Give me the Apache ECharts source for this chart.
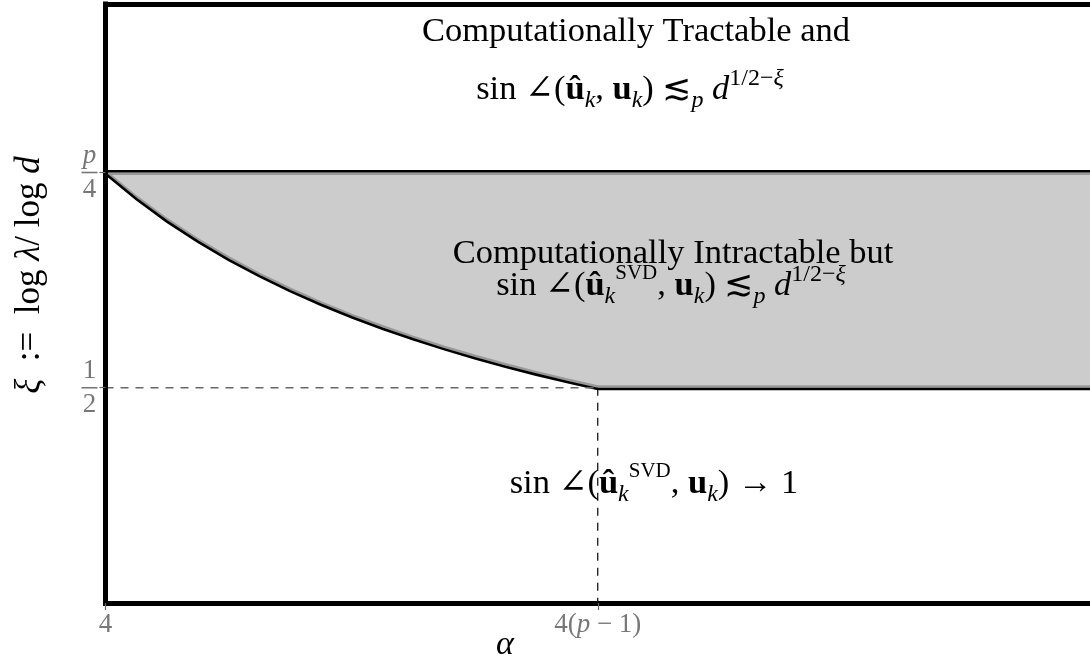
<!DOCTYPE html>
<html>
<head>
<meta charset="utf-8">
<script src="https://cdn.jsdelivr.net/npm/echarts@6/dist/echarts.min.js"></script>
<style>
html,body{margin:0;padding:0;background:#fff;}
#chart{width:1090px;height:665px;}
</style>
</head>
<body>
<div id="chart"></div>
<script>
// ---- data ----
const alphaRange = [4, 12];
const xiRange = [0.25, 0.9457];
const alphaTicks = [4, 8];
const alphaTickLabels = ['{r|4}', '{r|4(}{i|p}{r| − 1)}'];
const xiTicks = [0.5, 0.75];
const xiTickNum = ['{n|1}', '{ni|p}'];
const xiTickDen = ['2', '4'];
const upperXi = 0.75;      // p/4
const floorXi = 0.5;       // 1/2
const kinkAlpha = 8;       // 4(p-1)
const regionEndAlpha = 12;
const curveAlpha = [4, 4.25, 4.5, 4.75, 5, 5.25, 5.5, 5.75, 6, 6.25, 6.5, 6.75, 7, 7.25, 7.5, 7.75, 8];
const curveXi = [0.75, 0.7206, 0.6944, 0.6711, 0.65, 0.631, 0.6136, 0.5978, 0.5833, 0.57, 0.5577, 0.5463, 0.5357, 0.5259, 0.5167, 0.5081, 0.5];

const FONT = "'Liberation Serif','DejaVu Serif',serif";
const GRAY = '#777';
const FS = 34.5;

function renderRegion(params, api) {
  const topPx = [[alphaRange[0], upperXi], [regionEndAlpha, upperXi]].map(d => api.coord(d));
  const lowData = curveAlpha.map((a, i) => [a, curveXi[i]]).concat([[regionEndAlpha, floorXi]]);
  const lowPx = lowData.map(d => api.coord(d));
  const poly = topPx.concat(lowPx.slice().reverse());
  const off = 1.25;
  const shift = (pts, dy) => pts.map(q => [q[0], q[1] + dy]);
  return {
    type: 'group',
    children: [
      { type: 'polygon', shape: { points: poly }, style: { fill: '#cccccc' } },
      { type: 'polyline', shape: { points: shift(topPx, off) }, style: { stroke: '#999999', lineWidth: 2.4, fill: null } },
      { type: 'polyline', shape: { points: shift(lowPx, -off) }, style: { stroke: '#999999', lineWidth: 2.4, fill: null } },
      { type: 'polyline', shape: { points: shift(topPx, -off) }, style: { stroke: '#000', lineWidth: 2.6, fill: null } },
      { type: 'polyline', shape: { points: shift(lowPx, off) }, style: { stroke: '#000', lineWidth: 2.6, fill: null } }
    ]
  };
}

const mathRich = {
  r: { fontSize: FS, fontFamily: FONT, color: '#000', lineHeight: 46 },
  i: { fontSize: FS, fontFamily: FONT, fontStyle: 'italic', color: '#000', lineHeight: 46 },
  b: { fontSize: FS, fontFamily: FONT, fontWeight: 'bold', color: '#000', lineHeight: 46 },
  s: { fontSize: 24, fontFamily: FONT, fontStyle: 'italic', color: '#000', lineHeight: 23, verticalAlign: 'bottom' },
  sup: { fontSize: 24, fontFamily: FONT, color: '#000', lineHeight: 26, verticalAlign: 'top' },
  supi: { fontSize: 24, fontFamily: FONT, fontStyle: 'italic', color: '#000', lineHeight: 26, verticalAlign: 'top' },
  supr: { fontSize: 21, fontFamily: FONT, color: '#000', lineHeight: 20, verticalAlign: 'top' }
};

function mtext(x, y, text) {
  return {
    type: 'text', x: x, y: y, z: 50,
    style: { text: text, rich: mathRich, align: 'center', verticalAlign: 'middle', fontSize: FS, fontFamily: FONT, fill: '#000' }
  };
}

const chart = echarts.init(document.getElementById('chart'), null, { renderer: 'canvas' });
chart.setOption({
  animation: false,
  backgroundColor: '#fff',
  grid: { left: 105.5, top: 4, width: 988.6, bottom: 62, containLabel: false },
  xAxis: [
    {
      type: 'value', min: alphaRange[0], max: alphaRange[1], position: 'bottom', z: 10,
      splitLine: { show: false },
      axisLine: { show: true, onZero: false, lineStyle: { color: '#000', width: 5, cap: 'square' } },
      axisTick: { show: true, customValues: alphaTicks, length: 7, lineStyle: { color: '#666', width: 1.2 } },
      axisLabel: {
        show: true, customValues: alphaTicks, margin: 8, color: GRAY,
        formatter: v => alphaTickLabels[alphaTicks.indexOf(v)] || '',
        rich: {
          r: { fontSize: 27, fontFamily: FONT, color: GRAY },
          i: { fontSize: 27, fontFamily: FONT, fontStyle: 'italic', color: GRAY }
        }
      }
    },
    {
      type: 'value', min: alphaRange[0], max: alphaRange[1], position: 'top', z: 10,
      splitLine: { show: false },
      axisLine: { show: true, onZero: false, lineStyle: { color: '#000', width: 5, cap: 'square' } },
      axisTick: { show: false }, axisLabel: { show: false }
    }
  ],
  yAxis: {
    type: 'value', min: xiRange[0], max: xiRange[1], z: 10,
    splitLine: { show: false },
    axisLine: { show: true, onZero: false, lineStyle: { color: '#000', width: 5, cap: 'square' } },
    axisTick: { show: true, customValues: xiTicks, length: 6, lineStyle: { color: '#666', width: 1.2 } },
    axisLabel: {
      show: true, customValues: xiTicks, margin: 8, align: 'right',
      formatter: v => {
        const k = xiTicks.indexOf(v);
        if (k < 0) return '';
        return xiTickNum[k] + '\n{bar| }\n{d|' + xiTickDen[k] + '}';
      },
      rich: {
        n: { fontSize: 27, fontFamily: FONT, color: GRAY, lineHeight: 30, align: 'center' },
        ni: { fontSize: 27, fontFamily: FONT, fontStyle: 'italic', color: GRAY, lineHeight: 30, align: 'center' },
        bar: { width: 16, height: 1.6, lineHeight: 4, fontSize: 2, backgroundColor: GRAY, align: 'center' },
        d: { fontSize: 27, fontFamily: FONT, color: GRAY, lineHeight: 30, align: 'center' }
      }
    }
  },
  series: [
    {
      type: 'custom', coordinateSystem: 'cartesian2d', clip: true, z: 2,
      data: [[alphaRange[0], upperXi]],
      renderItem: renderRegion,
      silent: true
    },
    {
      type: 'line', z: 3, symbol: 'none', silent: true,
      data: [[alphaRange[0], floorXi], [kinkAlpha, floorXi]],
      lineStyle: { color: '#666', width: 1.3, type: [8, 7] }
    },
    {
      type: 'line', z: 3, symbol: 'none', silent: true,
      data: [[kinkAlpha, floorXi], [kinkAlpha, xiRange[0]]],
      lineStyle: { color: '#000', width: 1.2, type: [8, 7] }
    }
  ],
  graphic: [
    mtext(636, 32, '{r|Computationally Tractable and}'),
    mtext(630, 90, '{r|sin ∠(}{b|û}{s|k}{r|, }{b|u}{s|k}{r|) ≲}{s|p}{r| }{i|d}{sup|1/2−}{supi|ξ}'),
    mtext(673, 254, '{r|Computationally Intractable but}'),
    mtext(671, 286, '{r|sin ∠(}{b|û}{s|k}{supr|SVD}{r|, }{b|u}{s|k}{r|) ≲}{s|p}{r| }{i|d}{sup|1/2−}{supi|ξ}'),
    mtext(654, 484, '{r|sin ∠(}{b|û}{s|k}{supr|SVD}{r|, }{b|u}{s|k}{r|) → 1}'),
    {
      type: 'text', x: 30, y: 275, rotation: Math.PI / 2, z: 50,
      style: {
        text: '{i|ξ}{r|  :=  log }{i|λ}{r|/ log }{i|d}',
        align: 'center', verticalAlign: 'middle',
        rich: {
          r: { fontSize: 35, fontFamily: FONT, color: '#000' },
          i: { fontSize: 35, fontFamily: FONT, fontStyle: 'italic', color: '#000' }
        }
      }
    },
    {
      type: 'text', x: 505, y: 645, z: 50,
      style: { text: 'α', align: 'center', verticalAlign: 'middle', fontSize: 34, fontFamily: FONT, fontStyle: 'italic', fill: '#000' }
    }
  ]
});
</script>
</body>
</html>
